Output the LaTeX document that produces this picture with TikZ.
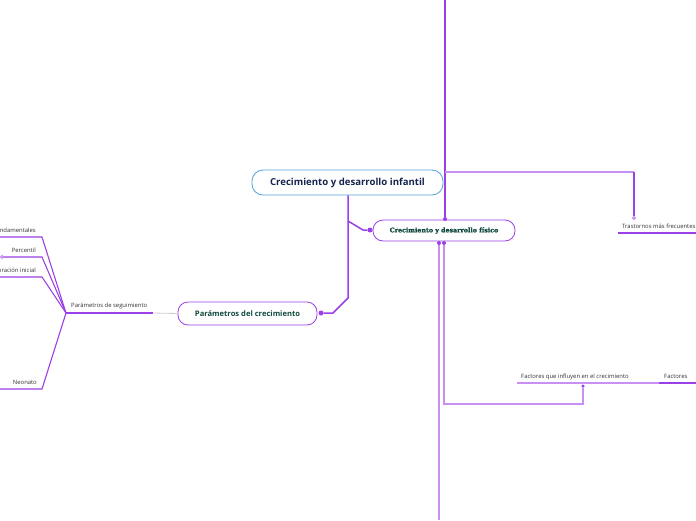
\documentclass[tikz,border=0pt]{standalone}
\usepackage{fontspec}
\setmainfont{Open Sans}
\newfontfamily\heavyfont[BoldFeatures={FakeBold=1.6}]{DejaVu Serif}
\usetikzlibrary{positioning,calc}
\definecolor{mapblue}{HTML}{4DA3E0}
\definecolor{mapnavy}{HTML}{17244F}
\definecolor{mappurple}{HTML}{9B3FE6}
\definecolor{softpurple}{HTML}{C890F2}
\definecolor{mapgreen}{HTML}{0F4A3C}
\definecolor{labelgray}{HTML}{333333}
\tikzset{
  root/.style={draw=mapblue,rounded corners=11pt,fill=white,minimum width=191pt,
    minimum height=25pt,font=\fontsize{9.6}{11}\selectfont\bfseries,text=mapnavy,line width=0.8pt},
  topic/.style={draw=mappurple,rounded corners=10pt,fill=white,line width=0.8pt,
    text=mapgreen,inner sep=2pt},
  leaf/.style={font=\fontsize{5.9}{6.5}\selectfont,text=labelgray,inner sep=1pt},
  branch/.style={mappurple,line width=1.1pt},
  soft/.style={softpurple,line width=1.6pt},
  knob/.style={circle,fill=mappurple,inner sep=0pt,minimum size=5pt},
  ring/.style={circle,draw=mappurple,fill=white,inner sep=0pt,minimum size=3pt}
}

\begin{document}
\begin{tikzpicture}[x=1pt,y=-1pt]
  \useasboundingbox (0,0) rectangle (696,520);
  % Main topics
  \node[root] (infantil) at (347.5,182.5) {Crecimiento y desarrollo infantil};
  \node[topic,minimum width=142pt,minimum height=21pt,font=\heavyfont\fontsize{6.3}{7}\selectfont\bfseries]
    (fisico) at (444,230.5) {Crecimiento y desarrollo físico};
  \node[topic,minimum width=139pt,minimum height=23pt,font=\fontsize{7.6}{8}\selectfont\bfseries]
    (parametros) at (247.5,313.5) {Parámetros del crecimiento};
  % Knobs
  \node[knob] (kparam) at (321,313) {};
  \node[knob] (kfisl) at (370,230) {};
  \node[knob,minimum size=4pt] (kfist) at (445,219) {};
  \node[knob,minimum size=4pt] (kfisa) at (439,243) {};
  \node[knob,minimum size=4pt] (kfisb) at (444,243) {};
  \node[knob,minimum size=3.5pt] (kfact) at (583,386) {};
  \node[ring] (ktras) at (634,218) {};
  \node[ring] (kperc) at (2,257) {};
  % Bends
  \coordinate (rootdown) at (348,298);
  \coordinate (rootturn) at (333,313);
  \coordinate (rootsplit) at (348,221);
  \coordinate (fisturn) at (363,230);
  \coordinate (topend) at (445,0);
  \coordinate (trasa) at (445,172);
  \coordinate (trasb) at (634,172);
  \coordinate (bottomend) at (439,520);
  \coordinate (factb) at (444,404);
  \coordinate (facta) at (583,404);
  \coordinate (hub) at (66,313);
  \coordinate (hubend) at (153,313);
  % Connectors of the main node
  \draw[branch,line width=1.5pt] (infantil.south -| rootdown) -- (rootdown) -- (rootturn) -- (kparam);
  \draw[branch,line width=1.5pt] (rootsplit) -- (fisturn) -- (kfisl);
  \draw[branch,line width=1.4pt] (topend) -- (kfist);
  \draw[softpurple,line width=1.6pt] (trasa) -- (trasb);
  \draw[branch] (trasb) -- (ktras);
  \draw[soft] (kfisa) -- (bottomend);
  \draw[soft] (kfisb) -- (factb) -- (facta) -- (kfact);
  % Trastornos
  \node[leaf,anchor=base west] (trastornos) at (621,228) {Trastornos más frecuentes};
  \draw[branch] (618,233) -- (696,233);
  % Factores
  \node[leaf,anchor=base west] (influyen) at (520,378) {Factores que influyen en el crecimiento};
  \node[leaf,anchor=base west] (factores) at (663,378) {Factores};
  \draw[softpurple,line width=1.8pt] (517,383) -- (659,383);
  \draw[branch,line width=1.6pt] (659,383) -- (696,383);
  % Parametros de seguimiento
  \node[leaf,anchor=base west] (seguimiento) at (70,307) {Parámetros de seguimiento};
  \draw[branch] (hub) -- (hubend);
  \draw[gray!40,line width=0.8pt] (hubend) -- (parametros.west);
  \node[leaf,anchor=base east] (fundamentales) at (37,232) {Parámetros fundamentales};
  \node[leaf,anchor=base east] (percentil) at (37,252) {Percentil};
  \node[leaf,anchor=base east] (valoracion) at (37,272) {Valoración inicial};
  \node[leaf,anchor=base east] (neonato) at (38,384) {Neonato};
  \draw[branch] (hub) -- (42,237) -- (0,237);
  \draw[branch] (hub) -- (42,257) -- (kperc);
  \draw[branch] (hub) -- (42,277) -- (0,277);
  \draw[branch] (hub) -- (42,389) -- (0,389);
\end{tikzpicture}
\end{document}
